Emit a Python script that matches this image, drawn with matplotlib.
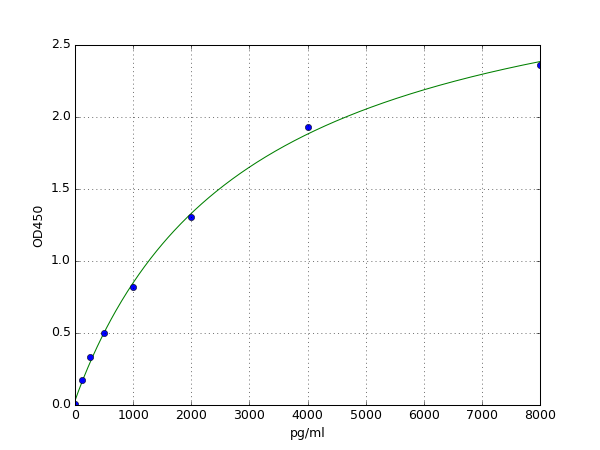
import numpy as np
import matplotlib
matplotlib.use("Agg")
import matplotlib.pyplot as plt

# standard concentrations (pg/ml) and measured OD450
conc = [0, 125, 250, 500, 1000, 2000, 4000, 8000]
od = [0.005, 0.174, 0.332, 0.497, 0.817, 1.307, 1.934, 2.363]


def four_pl(x, p):
  a, b, c, d = p
  return d + (a - d) / (1.0 + (np.maximum(x, 0) / c) ** b)


def fit_4pl(x, y, p0, iters=500):
  # small Levenberg-Marquardt, no scipy needed
  x = np.asarray(x, float)
  y = np.asarray(y, float)
  p = np.array(p0, float)
  lam = 1e-3
  err = np.sum((four_pl(x, p) - y) ** 2)
  for _ in range(iters):
    r = four_pl(x, p) - y
    J = np.zeros((len(x), len(p)))
    for k in range(len(p)):
      h = 1e-6 * max(abs(p[k]), 1e-3)
      dp = p.copy()
      dp[k] += h
      J[:, k] = (four_pl(x, dp) - four_pl(x, p)) / h
    A = J.T @ J
    g = J.T @ r
    step = np.linalg.solve(A + lam * np.diag(np.diag(A)), -g)
    pn = p + step
    if pn[2] <= 0 or pn[1] <= 0:
      lam *= 10
      continue
    en = np.sum((four_pl(x, pn) - y) ** 2)
    if en < err:
      p, err = pn, en
      lam = max(lam / 10, 1e-12)
    else:
      lam *= 10
  return p


params = fit_4pl(conc, od, [0.03, 1.0, 3000.0, 3.5])

plt.style.use("classic")
fig = plt.figure(figsize=(8, 6), dpi=75)
ax = fig.add_subplot(111)

xs = np.linspace(0, 8000, 400)
ax.plot(xs, four_pl(xs, params), "g-")
ax.plot(conc, od, "bo")

ax.set_xlim(0, 8000)
ax.set_ylim(0, 2.5)
ax.set_xlabel("pg/ml")
ax.set_ylabel("OD450")
ax.grid(True)

fig.savefig("out.png", dpi=75, facecolor="white")
